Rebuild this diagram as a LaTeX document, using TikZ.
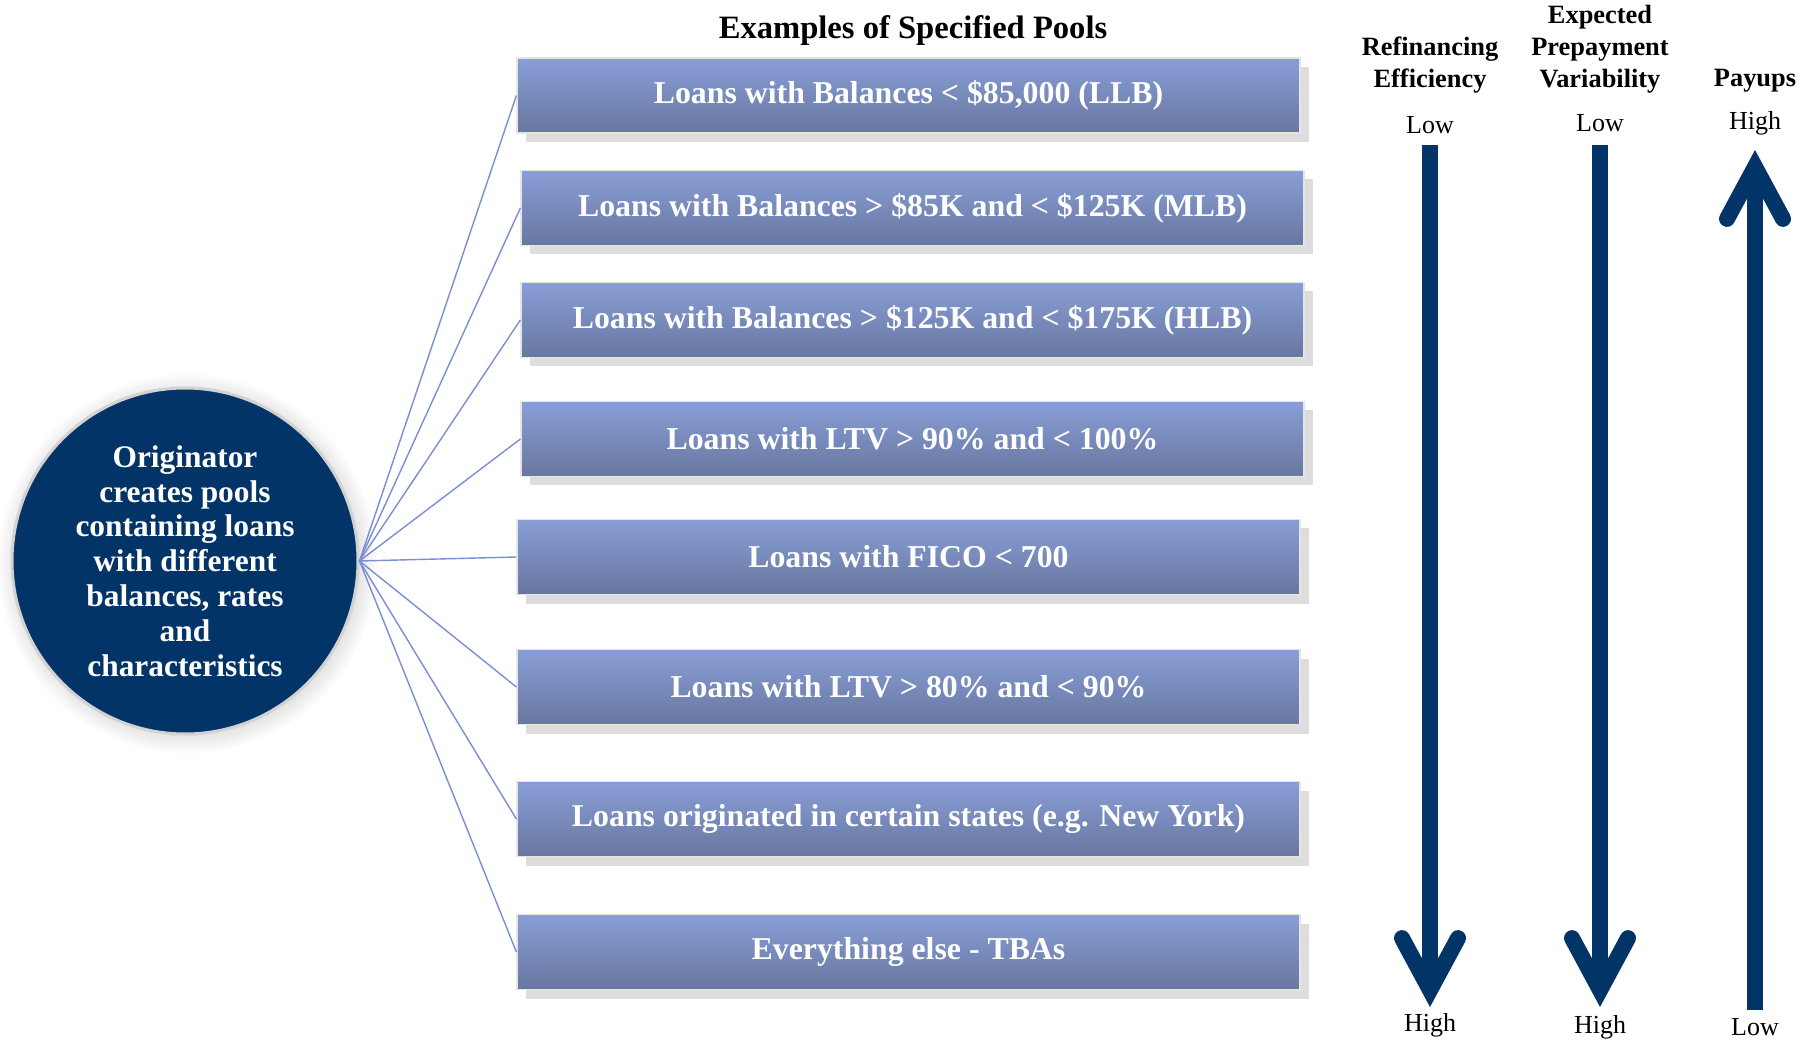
\documentclass[tikz,border=0pt]{standalone}
\usepackage{fontspec}
\setmainfont{Liberation Serif}
\usetikzlibrary{arrows.meta,shadows}

\definecolor{navy}{RGB}{3,52,104}
\definecolor{pooltop}{RGB}{136,158,214}
\definecolor{poolbot}{RGB}{104,119,160}
\definecolor{linkblue}{RGB}{122,142,212}
\definecolor{shadowgrey}{RGB}{221,221,221}

\tikzset{
  pool/.style={minimum width=391.5pt, minimum height=37.5pt, draw=white!80!gray, line width=0.6pt,
    top color=pooltop, bottom color=poolbot, text=white,
    font=\fontsize{15.9}{18}\selectfont\bfseries,
    drop shadow={shadow xshift=4.5pt, shadow yshift=-4.5pt, fill=shadowgrey, opacity=1}},
  origin/.style={circle, minimum size=173pt, fill=navy, draw=gray!35, line width=1.5pt,
    align=center, text=white, font=\fontsize{15.7}{17.4}\selectfont\bfseries,
    circular drop shadow={shadow xshift=1pt, shadow yshift=-1pt, fill=gray!50, opacity=0.6}},
  link/.style={draw=linkblue, line width=0.7pt},
  head/.style={align=center, font=\fontsize{13.2}{16}\selectfont\bfseries},
  level/.style={font=\fontsize{13}{15.6}\selectfont},
  bigarrow/.style={draw=navy, line width=8pt,
    -{Straight Barb[length=26pt, width=28pt, line cap=round, line join=miter]}}
}

\begin{document}
\begin{tikzpicture}[x=0.5pt, y=-0.5pt]
    \useasboundingbox (0,0) rectangle (1814,1042);

    % title
    \node (title) at (913,30) [font=\fontsize{16.3}{19}\selectfont\bfseries] {Examples of Specified Pools};

    % pools
    \node (p1) at (908.5,95.5) [pool] {Loans with Balances < \$85,000 (LLB)};
    \node (p2) at (912.5,208) [pool] {Loans with Balances > \$85K and < \$125K (MLB)};
    \node (p3) at (912.5,320) [pool] {Loans with Balances > \$125K and < \$175K (HLB)};
    \node (p4) at (912.5,439) [pool] {Loans with LTV > 90\% and < 100\%};
    \node (p5) at (908.5,557) [pool] {Loans with FICO < 700};
    \node (p6) at (908.5,687) [pool] {Loans with LTV > 80\% and < 90\%};
    \node (p7) at (908.5,819) [pool] {Loans originated in certain states (e.g. New York)};
    \node (p8) at (908.5,952) [pool] {Everything else - TBAs};

    % originator
    \node (orig) at (185,561) [origin] {Originator\\creates pools\\containing loans\\with different\\balances, rates\\and\\characteristics};
    \foreach \p in {p1,p2,p3,p4,p5,p6,p7,p8}
        \draw[link] (orig.east) -- (\p.west);

    % column heads
    \node (refi) at (1430,65) [head] {Refinancing\\Efficiency};
    \node (vari) at (1600,49) [head] {Expected\\Prepayment\\Variability};
    \node (payup) at (1755,81) [head] {Payups};

    \node (refilow) at (1430,125) [level] {Low};
    \node (varilow) at (1600,123) [level] {Low};
    \node (payuphigh) at (1755,123) [level] {High};
    \node (refihigh) at (1430,1025) [level] {High};
    \node (varihigh) at (1600,1027) [level] {High};
    \node (payuplow) at (1755,1027) [level] {Low};

    % arrows
    \coordinate (refitop) at (1430,145);
    \coordinate (refitip) at (1430,1007);
    \coordinate (varitop) at (1600,145);
    \coordinate (varitip) at (1600,1007);
    \coordinate (payuptip) at (1755,150);
    \coordinate (payupend) at (1755,1010);
    \draw[bigarrow] (refitop) -- (refitip);
    \draw[bigarrow] (varitop) -- (varitip);
    \draw[bigarrow] (payupend) -- (payuptip);
\end{tikzpicture}
\end{document}
